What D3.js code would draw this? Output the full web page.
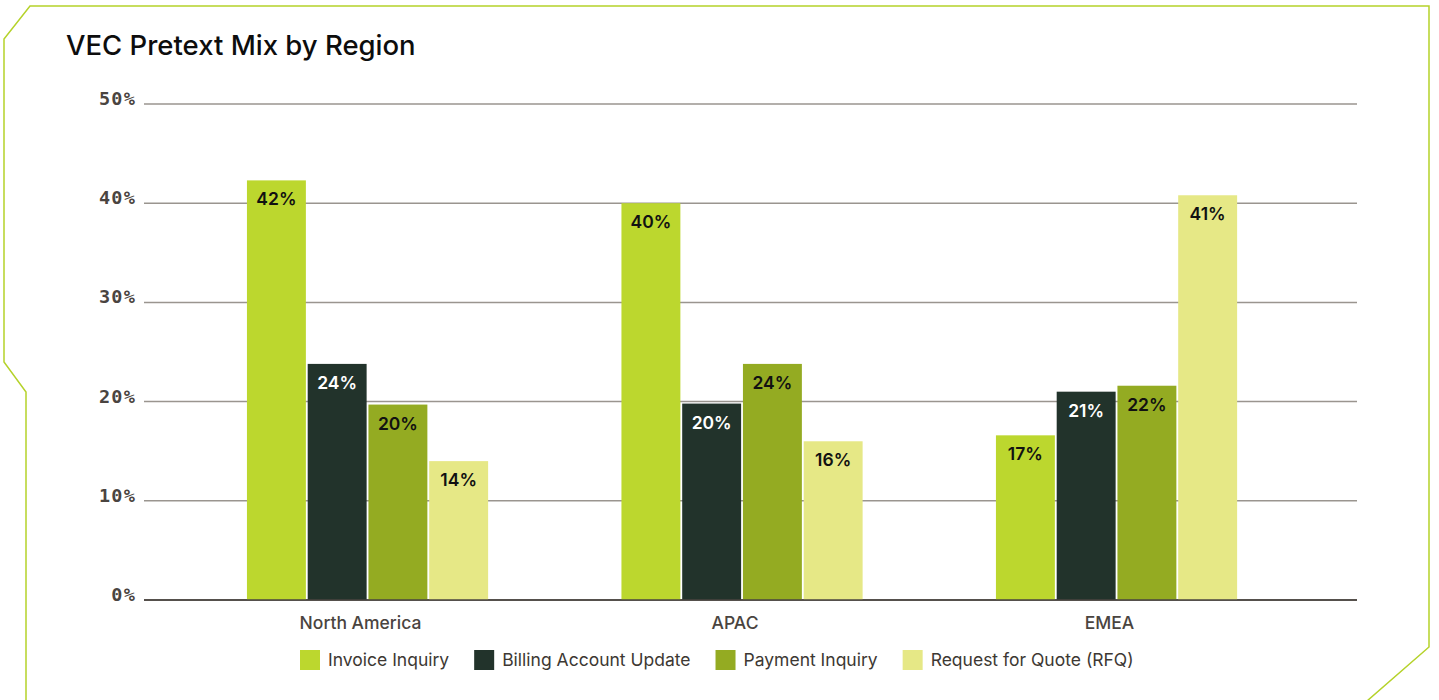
<!DOCTYPE html>
<html lang="en">
<head>
<meta charset="UTF-8">
<title>VEC Pretext Mix by Region</title>
<style>
  body {
    margin: 0;
    background: #fff;
    font-family: Inter, "Noto Sans", sans-serif;
  }
  .title {
    font-size: 27.5px;
    font-weight: 500;
    fill: #0d0d0d;
  }
  .grid line {
    stroke: #9a958f;
    stroke-width: 1.5px;
  }
  .ytick {
    font-family: "DejaVu Sans Mono", monospace;
    font-size: 18.5px;
    font-weight: bold;
    fill: #4a4440;
    text-anchor: end;
    letter-spacing: 1.2px;
  }
  .xlabel {
    font-size: 17.5px;
    font-weight: 500;
    fill: #4a4440;
    text-anchor: middle;
  }
  .value {
    font-size: 17.5px;
    font-weight: 600;
    text-anchor: middle;
  }
  .legend text {
    font-size: 17.5px;
    fill: #3d3833;
  }
</style>
</head>
<body>
<div id="chart"></div>
<script src="https://cdn.jsdelivr.net/npm/d3@7"></script>
<script>
  var regions = ["North America", "APAC", "EMEA"];
  var series = ["Invoice Inquiry", "Billing Account Update", "Payment Inquiry", "Request for Quote (RFQ)"];
  var colors = ["#bcd72e", "#22332b", "#94ab22", "#e6e886"];
  var labelColors = ["#111", "#fff", "#111", "#111"];
  var invoiceInquiry = [42.3, 40.0, 16.6];
  var billingUpdate = [23.8, 19.8, 21.0];
  var paymentInquiry = [19.7, 23.8, 21.6];
  var rfq = [14.0, 16.0, 40.8];
  var yTicks = [0, 10, 20, 30, 40, 50];

  var values = [invoiceInquiry, billingUpdate, paymentInquiry, rfq];

  var width = 1439, height = 700;

  var svg = d3.select("#chart").append("svg")
      .attr("width", width)
      .attr("height", height);

  // card outline with clipped corners
  svg.append("path")
      .attr("d", "M26,701 L26,392 L4,362 L4,39 L30,6 L1429,6 L1429,647 L1367,701")
      .attr("fill", "none")
      .attr("stroke", "#b5d22a")
      .attr("stroke-width", 1.5);

  svg.append("text")
      .attr("class", "title")
      .attr("x", 66)
      .attr("y", 55)
      .text("VEC Pretext Mix by Region");

  var y = d3.scaleLinear().domain([0, 50]).range([600, 104]);

  var x0 = d3.scaleBand()
      .domain(regions)
      .range([144, 1357])
      .paddingInner(0.356)
      .paddingOuter(0.2975)
      .align(0.462);

  var x1 = d3.scaleBand()
      .domain(series)
      .range([0, x0.bandwidth()])
      .paddingInner(0.03);

  var grid = svg.append("g").attr("class", "grid");

  grid.selectAll("line")
      .data(yTicks)
    .enter().append("line")
      .attr("x1", 144)
      .attr("x2", 1357)
      .attr("y1", function(d) { return y(d); })
      .attr("y2", function(d) { return y(d); })
      .style("stroke", function(d) { return d === 0 ? "#4a4440" : null; });

  svg.append("g").selectAll("text")
      .data(yTicks)
    .enter().append("text")
      .attr("class", "ytick")
      .attr("x", 136)
      .attr("y", function(d) { return y(d) + 1; })
      .text(function(d) { return d + "%"; });

  var groups = svg.append("g").selectAll("g")
      .data(regions)
    .enter().append("g")
      .attr("transform", function(d) { return "translate(" + x0(d) + ",0)"; });

  groups.selectAll("rect")
      .data(function(d, i) { return series.map(function(s, j) { return { s: s, j: j, v: values[j][i] }; }); })
    .enter().append("rect")
      .attr("x", function(d) { return x1(d.s); })
      .attr("y", function(d) { return y(d.v); })
      .attr("width", x1.bandwidth())
      .attr("height", function(d) { return y(0) - y(d.v); })
      .attr("fill", function(d) { return colors[d.j]; });

  groups.selectAll("text.value")
      .data(function(d, i) { return series.map(function(s, j) { return { s: s, j: j, v: values[j][i] }; }); })
    .enter().append("text")
      .attr("class", "value")
      .attr("x", function(d) { return x1(d.s) + x1.bandwidth() / 2; })
      .attr("y", function(d) { return y(d.v) + 25; })
      .attr("fill", function(d) { return labelColors[d.j]; })
      .text(function(d) { return Math.round(d.v) + "%"; });

  // redraw baseline over bars
  svg.append("line")
      .attr("x1", 144).attr("x2", 1357)
      .attr("y1", y(0)).attr("y2", y(0))
      .attr("stroke", "#4a4440")
      .attr("stroke-width", 1.5);

  svg.append("g").selectAll("text")
      .data(regions)
    .enter().append("text")
      .attr("class", "xlabel")
      .attr("x", function(d) { return x0(d) + x0.bandwidth() / 2 - 7; })
      .attr("y", 629)
      .text(function(d) { return d; });

  // legend
  var legend = svg.append("g").attr("class", "legend");
  var lx = 300;
  series.forEach(function(s, i) {
    var item = legend.append("g").attr("transform", "translate(" + lx + ",650)");
    item.append("rect")
        .attr("width", 20)
        .attr("height", 20)
        .attr("fill", colors[i]);
    var t = item.append("text")
        .attr("x", 28)
        .attr("y", 16)
        .text(s);
    lx += 28 + t.node().getComputedTextLength() + 25;
  });
</script>
</body>
</html>
